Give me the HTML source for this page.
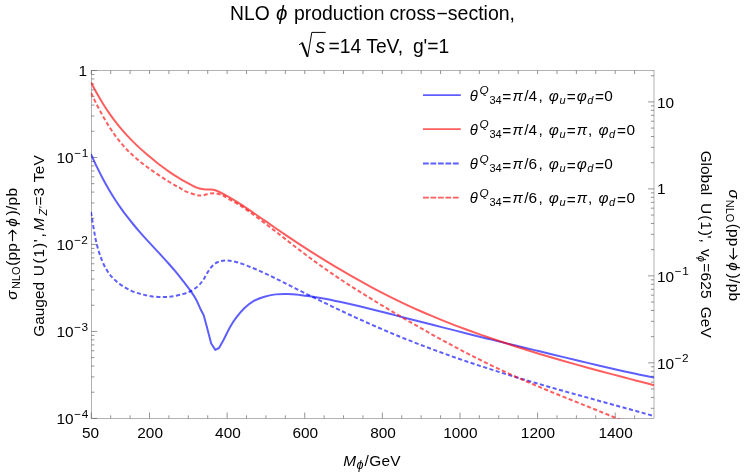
<!DOCTYPE html>
<html><head><meta charset="utf-8"><title>NLO phi production cross-section</title>
<style>html,body{margin:0;padding:0;background:#fff;}body{width:747px;height:474px;overflow:hidden;}svg{display:block;will-change:transform;}text{font-family:"Liberation Sans",sans-serif;fill:#000;white-space:pre;}.i{font-style:italic;}</style></head><body>
<svg width="747" height="474" viewBox="0 0 747 474">
<rect x="0" y="0" width="747" height="474" fill="#fff"/>
<defs><clipPath id="cp"><rect x="90.8" y="70.0" width="563.7" height="348.7"/></clipPath></defs>
<g stroke="#666666" stroke-width="0.5" fill="none">
<rect x="91.3" y="70.5" width="562.7" height="347.9"/>
<path d="M91.30 418.40v-5.90M91.30 70.50v3.50M110.70 418.40v-3.10M110.70 70.50v3.50M130.11 418.40v-3.10M130.11 70.50v3.50M149.51 418.40v-5.90M149.51 70.50v3.50M168.91 418.40v-3.10M168.91 70.50v3.50M188.32 418.40v-3.10M188.32 70.50v3.50M207.72 418.40v-3.10M207.72 70.50v3.50M227.12 418.40v-5.90M227.12 70.50v3.50M246.53 418.40v-3.10M246.53 70.50v3.50M265.93 418.40v-3.10M265.93 70.50v3.50M285.33 418.40v-3.10M285.33 70.50v3.50M304.74 418.40v-5.90M304.74 70.50v3.50M324.14 418.40v-3.10M324.14 70.50v3.50M343.54 418.40v-3.10M343.54 70.50v3.50M362.95 418.40v-3.10M362.95 70.50v3.50M382.35 418.40v-5.90M382.35 70.50v3.50M401.76 418.40v-3.10M401.76 70.50v3.50M421.16 418.40v-3.10M421.16 70.50v3.50M440.56 418.40v-3.10M440.56 70.50v3.50M459.97 418.40v-5.90M459.97 70.50v3.50M479.37 418.40v-3.10M479.37 70.50v3.50M498.77 418.40v-3.10M498.77 70.50v3.50M518.18 418.40v-3.10M518.18 70.50v3.50M537.58 418.40v-5.90M537.58 70.50v3.50M556.98 418.40v-3.10M556.98 70.50v3.50M576.39 418.40v-3.10M576.39 70.50v3.50M595.79 418.40v-3.10M595.79 70.50v3.50M615.19 418.40v-5.90M615.19 70.50v3.50M634.60 418.40v-3.10M634.60 70.50v3.50M91.30 418.40h5.90M91.30 392.22h3.10M91.30 376.90h3.10M91.30 366.04h3.10M91.30 357.61h3.10M91.30 350.72h3.10M91.30 344.90h3.10M91.30 339.85h3.10M91.30 335.40h3.10M91.30 331.42h5.90M91.30 305.24h3.10M91.30 289.93h3.10M91.30 279.06h3.10M91.30 270.63h3.10M91.30 263.75h3.10M91.30 257.92h3.10M91.30 252.88h3.10M91.30 248.43h3.10M91.30 244.45h5.90M91.30 218.27h3.10M91.30 202.95h3.10M91.30 192.09h3.10M91.30 183.66h3.10M91.30 176.77h3.10M91.30 170.95h3.10M91.30 165.90h3.10M91.30 161.45h3.10M91.30 157.47h5.90M91.30 131.29h3.10M91.30 115.98h3.10M91.30 105.11h3.10M91.30 96.68h3.10M91.30 89.80h3.10M91.30 83.97h3.10M91.30 78.93h3.10M91.30 74.48h3.10M91.30 70.50h5.90M654.00 408.30h-3.10M654.00 397.44h-3.10M654.00 389.01h-3.10M654.00 382.12h-3.10M654.00 376.30h-3.10M654.00 371.25h-3.10M654.00 366.80h-3.10M654.00 362.82h-5.90M654.00 336.64h-3.10M654.00 321.33h-3.10M654.00 310.46h-3.10M654.00 302.03h-3.10M654.00 295.15h-3.10M654.00 289.32h-3.10M654.00 284.28h-3.10M654.00 279.83h-3.10M654.00 275.85h-5.90M654.00 249.67h-3.10M654.00 234.35h-3.10M654.00 223.49h-3.10M654.00 215.06h-3.10M654.00 208.17h-3.10M654.00 202.35h-3.10M654.00 197.30h-3.10M654.00 192.85h-3.10M654.00 188.88h-5.90M654.00 162.69h-3.10M654.00 147.38h-3.10M654.00 136.51h-3.10M654.00 128.08h-3.10M654.00 121.20h-3.10M654.00 115.37h-3.10M654.00 110.33h-3.10M654.00 105.88h-3.10M654.00 101.90h-5.90M654.00 75.72h-3.10" stroke-width="0.7"/>
</g>
<g clip-path="url(#cp)" fill="none" stroke-width="2.00" stroke-linejoin="round" stroke-opacity="0.63">
<path d="M91.00 154.11 C92.00 156.29 95.00 163.02 97.00 167.17 C99.00 171.32 101.00 175.24 103.00 178.99 C105.00 182.75 107.00 186.29 109.00 189.70 C111.00 193.11 113.00 196.33 115.00 199.43 C117.00 202.53 119.00 205.46 121.00 208.30 C123.00 211.14 125.00 213.83 127.00 216.45 C129.00 219.07 131.00 221.56 133.00 224.00 C135.00 226.44 137.00 228.78 139.00 231.08 C141.00 233.39 143.00 235.62 145.00 237.83 C147.00 240.05 149.00 242.21 151.00 244.37 C153.00 246.53 155.00 248.66 157.00 250.82 C159.00 252.98 161.00 255.13 163.00 257.32 C165.00 259.51 167.00 261.71 169.00 263.98 C171.00 266.25 173.00 268.55 175.00 270.93 C177.00 273.31 179.60 276.55 181.00 278.29 C182.40 280.03 181.77 279.25 183.40 281.38 C185.03 283.51 188.68 288.06 190.80 291.10 C192.92 294.14 194.48 296.62 196.10 299.60 C197.72 302.58 199.23 306.38 200.50 309.00 C201.77 311.62 203.17 314.25 203.70 315.30 L206.90 326.90 L211.10 343.20 L215.30 349.90 L219.00 348.00 L223.80 339.50 C224.85 337.40 228.00 330.58 230.10 326.90 C232.20 323.22 234.00 320.55 236.40 317.40 C238.80 314.25 241.72 310.68 244.50 308.00 C247.28 305.32 249.92 303.13 253.10 301.30 C256.28 299.47 259.85 298.19 263.60 297.04 C267.35 295.89 271.60 294.90 275.60 294.38 C279.60 293.86 283.60 293.84 287.60 293.93 C291.60 294.02 295.60 294.47 299.60 294.91 C303.60 295.35 307.60 295.96 311.60 296.57 C315.60 297.18 319.60 297.86 323.60 298.59 C327.60 299.31 331.60 300.10 335.60 300.92 C339.60 301.74 343.60 302.62 347.60 303.51 C351.60 304.40 355.60 305.34 359.60 306.29 C363.60 307.24 367.60 308.23 371.60 309.23 C375.60 310.23 379.60 311.25 383.60 312.27 C387.60 313.29 391.60 314.33 395.60 315.36 C399.60 316.39 403.60 317.42 407.60 318.44 C411.60 319.46 415.60 320.49 419.60 321.51 C423.60 322.53 427.60 323.54 431.60 324.56 C435.60 325.58 439.60 326.60 443.60 327.61 C447.60 328.62 451.60 329.63 455.60 330.64 C459.60 331.65 463.60 332.66 467.60 333.67 C471.60 334.68 475.60 335.68 479.60 336.68 C483.60 337.68 487.60 338.66 491.60 339.65 C495.60 340.64 499.60 341.62 503.60 342.60 C507.60 343.58 511.60 344.55 515.60 345.52 C519.60 346.49 523.60 347.45 527.60 348.41 C531.60 349.38 535.60 350.34 539.60 351.31 C543.60 352.28 547.60 353.24 551.60 354.21 C555.60 355.18 559.60 356.15 563.60 357.11 C567.60 358.07 571.60 359.03 575.60 359.99 C579.60 360.95 583.60 361.92 587.60 362.87 C591.60 363.82 595.60 364.76 599.60 365.70 C603.60 366.63 607.60 367.56 611.60 368.48 C615.60 369.40 619.60 370.30 623.60 371.19 C627.60 372.08 631.60 372.95 635.60 373.81 C639.60 374.67 644.53 375.70 647.60 376.34 C650.67 376.98 652.93 377.42 654.00 377.64" stroke="#0000ff"/>
<path d="M91.00 82.37 C92.00 84.24 95.00 90.02 97.00 93.58 C99.00 97.14 101.00 100.50 103.00 103.71 C105.00 106.92 107.00 109.95 109.00 112.85 C111.00 115.75 113.00 118.48 115.00 121.11 C117.00 123.73 119.00 126.22 121.00 128.60 C123.00 130.98 125.00 133.23 127.00 135.40 C129.00 137.57 131.00 139.62 133.00 141.62 C135.00 143.62 137.00 145.52 139.00 147.37 C141.00 149.22 143.00 151.00 145.00 152.74 C147.00 154.49 149.00 156.18 151.00 157.84 C153.00 159.50 155.00 161.12 157.00 162.70 C159.00 164.28 161.00 165.82 163.00 167.31 C165.00 168.80 167.00 170.25 169.00 171.64 C171.00 173.03 173.00 174.38 175.00 175.66 C177.00 176.94 179.25 178.31 181.00 179.34 C182.75 180.38 182.98 180.53 185.50 181.87 C188.02 183.21 193.10 186.16 196.10 187.40 C199.10 188.64 201.03 188.95 203.50 189.30 C205.97 189.65 208.62 189.22 210.90 189.50 C213.18 189.78 214.40 189.85 217.20 191.00 C220.00 192.15 223.95 194.30 227.70 196.39 C231.45 198.48 235.70 201.03 239.70 203.55 C243.70 206.08 247.70 208.82 251.70 211.54 C255.70 214.26 259.70 217.11 263.70 219.89 C267.70 222.67 271.70 225.49 275.70 228.24 C279.70 230.99 283.70 233.71 287.70 236.39 C291.70 239.07 295.70 241.72 299.70 244.34 C303.70 246.96 307.70 249.54 311.70 252.08 C315.70 254.62 319.70 257.12 323.70 259.59 C327.70 262.05 331.70 264.48 335.70 266.87 C339.70 269.26 343.70 271.61 347.70 273.92 C351.70 276.23 355.70 278.50 359.70 280.72 C363.70 282.94 367.70 285.12 371.70 287.26 C375.70 289.40 379.70 291.50 383.70 293.55 C387.70 295.60 391.70 297.61 395.70 299.57 C399.70 301.53 403.70 303.44 407.70 305.30 C411.70 307.17 415.70 308.99 419.70 310.76 C423.70 312.53 427.70 314.25 431.70 315.94 C435.70 317.62 439.70 319.26 443.70 320.87 C447.70 322.48 451.70 324.04 455.70 325.57 C459.70 327.10 463.70 328.60 467.70 330.06 C471.70 331.52 475.70 332.94 479.70 334.35 C483.70 335.76 487.70 337.15 491.70 338.51 C495.70 339.87 499.70 341.20 503.70 342.52 C507.70 343.84 511.70 345.14 515.70 346.43 C519.70 347.72 523.70 348.99 527.70 350.24 C531.70 351.49 535.70 352.72 539.70 353.93 C543.70 355.14 547.70 356.34 551.70 357.52 C555.70 358.70 559.70 359.86 563.70 361.01 C567.70 362.16 571.70 363.28 575.70 364.40 C579.70 365.51 583.70 366.61 587.70 367.70 C591.70 368.79 595.70 369.87 599.70 370.94 C603.70 372.01 607.70 373.07 611.70 374.13 C615.70 375.19 619.70 376.24 623.70 377.29 C627.70 378.34 631.70 379.39 635.70 380.44 C639.70 381.49 644.65 382.78 647.70 383.58 C650.75 384.38 652.95 384.96 654.00 385.24" stroke="#ff0000"/>
<path d="M91.00 212.00 C91.48 215.00 92.97 224.75 93.90 230.00 C94.83 235.25 95.45 238.93 96.60 243.50 C97.75 248.07 99.22 253.15 100.80 257.40 C102.38 261.65 104.17 265.65 106.10 269.00 C108.03 272.35 109.93 274.85 112.40 277.50 C114.87 280.15 117.73 282.68 120.90 284.90 C124.07 287.12 127.88 289.23 131.40 290.80 C134.92 292.37 138.48 293.35 142.00 294.30 C145.52 295.25 148.82 296.03 152.50 296.50 C156.18 296.97 160.58 297.15 164.10 297.10 C167.62 297.05 170.38 296.73 173.60 296.20 C176.82 295.67 180.53 294.75 183.40 293.90 C186.27 293.05 188.33 292.43 190.80 291.10 C193.27 289.77 196.08 287.83 198.20 285.90 C200.32 283.97 201.92 281.78 203.50 279.50 C205.08 277.22 206.12 274.58 207.70 272.20 C209.28 269.82 211.07 266.97 213.00 265.20 C214.93 263.43 217.02 262.38 219.30 261.60 C221.58 260.82 223.88 260.43 226.70 260.50 C229.52 260.57 232.87 261.15 236.20 262.00 C239.53 262.85 242.95 264.15 246.70 265.57 C250.45 266.99 254.70 268.74 258.70 270.49 C262.70 272.24 266.70 274.13 270.70 276.05 C274.70 277.97 278.70 279.98 282.70 281.98 C286.70 283.98 290.70 286.02 294.70 288.03 C298.70 290.04 302.70 292.04 306.70 294.03 C310.70 296.02 314.70 298.00 318.70 299.96 C322.70 301.92 326.70 303.87 330.70 305.79 C334.70 307.72 338.70 309.63 342.70 311.51 C346.70 313.39 350.70 315.25 354.70 317.09 C358.70 318.92 362.70 320.74 366.70 322.52 C370.70 324.30 374.70 326.05 378.70 327.78 C382.70 329.51 386.70 331.21 390.70 332.88 C394.70 334.55 398.70 336.19 402.70 337.81 C406.70 339.43 410.70 341.01 414.70 342.57 C418.70 344.13 422.70 345.66 426.70 347.17 C430.70 348.68 434.70 350.16 438.70 351.62 C442.70 353.08 446.70 354.51 450.70 355.92 C454.70 357.33 458.70 358.71 462.70 360.08 C466.70 361.44 470.70 362.79 474.70 364.11 C478.70 365.44 482.70 366.74 486.70 368.03 C490.70 369.32 494.70 370.59 498.70 371.84 C502.70 373.09 506.70 374.33 510.70 375.55 C514.70 376.77 518.70 377.98 522.70 379.17 C526.70 380.37 530.70 381.55 534.70 382.72 C538.70 383.89 542.70 385.05 546.70 386.20 C550.70 387.35 554.70 388.50 558.70 389.63 C562.70 390.76 566.70 391.89 570.70 393.01 C574.70 394.13 578.70 395.24 582.70 396.35 C586.70 397.46 590.70 398.56 594.70 399.66 C598.70 400.76 602.70 401.86 606.70 402.96 C610.70 404.06 614.70 405.16 618.70 406.26 C622.70 407.36 626.70 408.46 630.70 409.56 C634.70 410.66 638.82 411.79 642.70 412.87 C646.58 413.95 652.12 415.50 654.00 416.02" stroke="#0000ff" stroke-dasharray="4.1 2.5"/>
<path d="M91.00 92.92 C92.00 94.94 95.00 101.17 97.00 105.05 C99.00 108.93 101.00 112.66 103.00 116.21 C105.00 119.76 107.00 123.15 109.00 126.33 C111.00 129.51 113.00 132.51 115.00 135.30 C117.00 138.09 119.00 140.66 121.00 143.07 C123.00 145.48 125.00 147.68 127.00 149.76 C129.00 151.84 131.00 153.73 133.00 155.55 C135.00 157.37 137.00 159.05 139.00 160.68 C141.00 162.31 143.00 163.83 145.00 165.33 C147.00 166.84 149.00 168.28 151.00 169.71 C153.00 171.14 155.00 172.56 157.00 173.93 C159.00 175.30 161.00 176.65 163.00 177.95 C165.00 179.25 167.00 180.52 169.00 181.74 C171.00 182.96 173.18 184.24 175.00 185.27 C176.82 186.30 178.15 186.94 179.90 187.94 C181.65 188.94 182.80 190.14 185.50 191.30 C188.20 192.46 193.28 194.22 196.10 194.90 C198.92 195.58 200.28 195.60 202.40 195.40 C204.52 195.20 206.68 194.07 208.80 193.70 C210.92 193.33 213.00 193.00 215.10 193.20 C217.20 193.40 219.30 194.05 221.40 194.90 C223.50 195.75 224.65 196.60 227.70 198.32 C230.75 200.04 235.70 202.72 239.70 205.24 C243.70 207.76 247.70 210.60 251.70 213.45 C255.70 216.30 259.70 219.33 263.70 222.35 C267.70 225.37 271.70 228.47 275.70 231.55 C279.70 234.64 283.70 237.77 287.70 240.86 C291.70 243.96 295.70 247.07 299.70 250.12 C303.70 253.17 307.70 256.21 311.70 259.16 C315.70 262.11 319.70 265.00 323.70 267.83 C327.70 270.66 331.70 273.42 335.70 276.12 C339.70 278.82 343.70 281.46 347.70 284.06 C351.70 286.66 355.70 289.20 359.70 291.72 C363.70 294.24 367.70 296.71 371.70 299.16 C375.70 301.61 379.70 304.03 383.70 306.43 C387.70 308.83 391.70 311.22 395.70 313.58 C399.70 315.94 403.70 318.29 407.70 320.61 C411.70 322.93 415.70 325.23 419.70 327.51 C423.70 329.79 427.70 332.04 431.70 334.27 C435.70 336.50 439.70 338.70 443.70 340.88 C447.70 343.06 451.70 345.21 455.70 347.33 C459.70 349.45 463.70 351.54 467.70 353.60 C471.70 355.66 475.70 357.69 479.70 359.69 C483.70 361.69 487.70 363.66 491.70 365.59 C495.70 367.52 499.70 369.41 503.70 371.27 C507.70 373.13 511.70 374.95 515.70 376.74 C519.70 378.53 523.70 380.27 527.70 382.00 C531.70 383.73 535.70 385.42 539.70 387.10 C543.70 388.78 547.70 390.42 551.70 392.06 C555.70 393.70 559.70 395.31 563.70 396.93 C567.70 398.55 571.70 400.15 575.70 401.75 C579.70 403.35 583.70 404.94 587.70 406.55 C591.70 408.16 595.70 409.76 599.70 411.38 C603.70 413.00 607.98 414.74 611.70 416.27 C615.42 417.80 620.28 419.84 622.00 420.55" stroke="#ff0000" stroke-dasharray="4.1 2.5"/>
</g>
<text x="82.03" y="438.20" font-size="15.40">50</text>
<text x="137.28" y="438.20" font-size="15.40">200</text>
<text x="215.10" y="438.20" font-size="15.40">400</text>
<text x="292.50" y="438.20" font-size="15.40">600</text>
<text x="370.17" y="438.20" font-size="15.40">800</text>
<text x="443.25" y="438.20" font-size="15.40">1000</text>
<text x="520.86" y="438.20" font-size="15.40">1200</text>
<text x="598.48" y="438.20" font-size="15.40">1400</text>
<text x="78.39" y="75.90" font-size="15.40">1</text>
<text x="56.43" y="163.28" font-size="15.40">10</text>
<text x="74.23" y="157.08" font-size="11.60">−</text>
<text x="81.70" y="156.68" font-size="11.80">1</text>
<text x="56.43" y="250.25" font-size="15.40">10</text>
<text x="74.23" y="244.05" font-size="11.60">−</text>
<text x="81.31" y="243.65" font-size="11.80">2</text>
<text x="56.43" y="337.22" font-size="15.40">10</text>
<text x="74.23" y="331.02" font-size="11.60">−</text>
<text x="81.45" y="330.62" font-size="11.80">3</text>
<text x="56.43" y="424.20" font-size="15.40">10</text>
<text x="74.23" y="418.00" font-size="11.60">−</text>
<text x="81.63" y="417.60" font-size="11.80">4</text>
<text x="657.03" y="107.50" font-size="15.40">10</text>
<text x="657.03" y="194.47" font-size="15.40">1</text>
<text x="657.03" y="281.65" font-size="15.40">10</text>
<text x="674.83" y="275.45" font-size="11.60">−</text>
<text x="682.30" y="275.05" font-size="11.80">1</text>
<text x="657.03" y="368.62" font-size="15.40">10</text>
<text x="674.83" y="362.42" font-size="11.60">−</text>
<text x="681.91" y="362.02" font-size="11.80">2</text>
<text x="343.33" y="465.50" font-size="15.40" class="i">M</text>
<text x="356.59" y="469.00" font-size="12.60" class="i">ϕ</text>
<text x="364.60" y="465.50" font-size="15.40" letter-spacing="0.30">/GeV</text>
<text x="230.02" y="19.60" font-size="19.30">NLO</text>
<text x="275.94" y="19.60" font-size="20.50" class="i">ϕ</text>
<text x="293.95" y="19.60" font-size="19.40">production</text>
<text x="389.48" y="19.60" font-size="19.40">cross</text>
<text x="436.54" y="19.60" font-size="19.40">−</text>
<text x="447.86" y="19.60" font-size="19.50">section</text>
<text x="509.46" y="19.60" font-size="19.40">,</text>
<path d="M299.1 44.8 L302.3 42.6 M307.7 56.6 L311.8 32.4 L325.7 32.4" fill="none" stroke="#000" stroke-width="1.0" stroke-linejoin="miter"/>
<path d="M302.0 42.6 L307.6 56.8" fill="none" stroke="#000" stroke-width="2.0"/>
<text x="315.55" y="52.50" font-size="19.30" class="i">s</text>
<text x="328.56" y="52.50" font-size="19.30">=14 TeV,</text>
<text x="412.89" y="52.50" font-size="19.30">g'=1</text>
<text transform="translate(16.90,299.71) rotate(-90)" font-size="15.40" class="i">σ</text>
<text transform="translate(20.40,289.10) rotate(-90)" font-size="11.00">NLO</text>
<text transform="translate(16.90,265.85) rotate(-90)" font-size="15.40" letter-spacing="0.25">(pp</text>
<path d="M12.50 240.70L12.50 230.20M8.90 233.60L12.50 230.10L16.10 233.60" fill="none" stroke="#000" stroke-width="1.15" stroke-linecap="round" stroke-linejoin="round"/>
<text transform="translate(16.90,226.80) rotate(-90)" font-size="15.40" class="i">ϕ</text>
<text transform="translate(16.90,215.59) rotate(-90)" font-size="15.40" letter-spacing="0.35">)/pb</text>
<text transform="translate(43.60,336.77) rotate(-90)" font-size="15.40">Gauged</text>
<text transform="translate(43.60,276.19) rotate(-90)" font-size="15.40">U</text>
<text transform="translate(43.60,263.55) rotate(-90)" font-size="15.40" letter-spacing="0.90">(1)</text>
<text transform="translate(43.60,242.18) rotate(-90)" font-size="15.40">'</text>
<text transform="translate(43.60,237.58) rotate(-90)" font-size="15.40">,</text>
<text transform="translate(43.60,230.87) rotate(-90)" font-size="15.40" class="i">M</text>
<text transform="translate(47.00,215.39) rotate(-90)" font-size="11.00" class="i">Z'</text>
<text transform="translate(43.60,205.55) rotate(-90)" font-size="15.40" letter-spacing="0.30">=3</text>
<text transform="translate(43.60,182.25) rotate(-90)" font-size="15.40" letter-spacing="0.25">TeV</text>
<text transform="translate(729.00,189.39) rotate(90)" font-size="15.40" class="i">σ</text>
<text transform="translate(725.50,199.70) rotate(90)" font-size="11.00">NLO</text>
<text transform="translate(729.00,223.65) rotate(90)" font-size="15.40" letter-spacing="0.25">(pp</text>
<path d="M733.40 248.40L733.40 259.00M729.80 255.60L733.40 259.10L737.00 255.60" fill="none" stroke="#000" stroke-width="1.15" stroke-linecap="round" stroke-linejoin="round"/>
<text transform="translate(729.00,262.30) rotate(90)" font-size="15.40" class="i">ϕ</text>
<text transform="translate(729.00,273.61) rotate(90)" font-size="15.40" letter-spacing="0.35">)/pb</text>
<text transform="translate(701.00,150.63) rotate(90)" font-size="15.40">Global</text>
<text transform="translate(701.00,203.11) rotate(90)" font-size="15.40">U</text>
<text transform="translate(701.00,215.15) rotate(90)" font-size="15.40" letter-spacing="1.00">(1)</text>
<text transform="translate(701.00,235.52) rotate(90)" font-size="15.40">'</text>
<text transform="translate(701.00,238.52) rotate(90)" font-size="15.40">,</text>
<text transform="translate(701.00,248.95) rotate(90)" font-size="15.40">v</text>
<text transform="translate(697.60,255.85) rotate(90)" font-size="11.00" class="i">ϕ</text>
<text transform="translate(701.00,263.35) rotate(90)" font-size="15.40" letter-spacing="0.15">=625</text>
<text transform="translate(701.00,306.73) rotate(90)" font-size="15.40" letter-spacing="0.10">GeV</text>
<path d="M423 95.1H460.8" stroke="#0000ff" stroke-width="1.90" stroke-opacity="0.63" fill="none"/>
<text x="469.67" y="100.60" font-size="14.80" class="i">θ</text>
<text x="479.62" y="94.20" font-size="11.80" class="i">Q</text>
<text x="489.38" y="103.80" font-size="11.00">34</text>
<text x="502.35" y="102.10" font-size="15.40">=</text>
<text x="512.52" y="100.60" font-size="15.40" class="i">π</text>
<text x="524.20" y="100.60" font-size="15.40">/4</text>
<text x="538.42" y="100.60" font-size="15.40">,</text>
<text x="548.67" y="100.60" font-size="15.40" class="i">φ</text>
<text x="559.44" y="103.90" font-size="11.00" class="i">u</text>
<text x="566.75" y="102.10" font-size="15.40">=</text>
<text x="576.77" y="100.60" font-size="15.40" class="i">φ</text>
<text x="587.23" y="103.90" font-size="11.00" class="i">d</text>
<text x="594.95" y="102.10" font-size="15.40">=</text>
<text x="604.30" y="100.60" font-size="15.40">0</text>
<path d="M423 129.1H460.8" stroke="#ff0000" stroke-width="1.90" stroke-opacity="0.63" fill="none"/>
<text x="469.67" y="134.60" font-size="14.80" class="i">θ</text>
<text x="479.62" y="128.20" font-size="11.80" class="i">Q</text>
<text x="489.38" y="137.80" font-size="11.00">34</text>
<text x="502.35" y="136.10" font-size="15.40">=</text>
<text x="512.52" y="134.60" font-size="15.40" class="i">π</text>
<text x="524.20" y="134.60" font-size="15.40">/4</text>
<text x="538.42" y="134.60" font-size="15.40">,</text>
<text x="548.67" y="134.60" font-size="15.40" class="i">φ</text>
<text x="559.44" y="137.90" font-size="11.00" class="i">u</text>
<text x="566.75" y="136.10" font-size="15.40">=</text>
<text x="576.82" y="134.60" font-size="15.40" class="i">π</text>
<text x="588.02" y="134.60" font-size="15.40">,</text>
<text x="598.47" y="134.60" font-size="15.40" class="i">φ</text>
<text x="609.03" y="137.90" font-size="11.00" class="i">d</text>
<text x="616.95" y="136.10" font-size="15.40">=</text>
<text x="626.40" y="134.60" font-size="15.40">0</text>
<path d="M423 163.5H458.8" stroke="#0000ff" stroke-width="1.90" stroke-opacity="0.63" fill="none" stroke-dasharray="5.8 1.68"/>
<text x="469.67" y="169.00" font-size="14.80" class="i">θ</text>
<text x="479.62" y="162.60" font-size="11.80" class="i">Q</text>
<text x="489.38" y="172.20" font-size="11.00">34</text>
<text x="502.35" y="170.50" font-size="15.40">=</text>
<text x="512.52" y="169.00" font-size="15.40" class="i">π</text>
<text x="524.20" y="169.00" font-size="15.40">/6</text>
<text x="538.42" y="169.00" font-size="15.40">,</text>
<text x="548.67" y="169.00" font-size="15.40" class="i">φ</text>
<text x="559.44" y="172.30" font-size="11.00" class="i">u</text>
<text x="566.75" y="170.50" font-size="15.40">=</text>
<text x="576.77" y="169.00" font-size="15.40" class="i">φ</text>
<text x="587.23" y="172.30" font-size="11.00" class="i">d</text>
<text x="594.95" y="170.50" font-size="15.40">=</text>
<text x="604.30" y="169.00" font-size="15.40">0</text>
<path d="M423 197.6H458.8" stroke="#ff0000" stroke-width="1.90" stroke-opacity="0.63" fill="none" stroke-dasharray="5.8 1.68"/>
<text x="469.67" y="203.10" font-size="14.80" class="i">θ</text>
<text x="479.62" y="196.70" font-size="11.80" class="i">Q</text>
<text x="489.38" y="206.30" font-size="11.00">34</text>
<text x="502.35" y="204.60" font-size="15.40">=</text>
<text x="512.52" y="203.10" font-size="15.40" class="i">π</text>
<text x="524.20" y="203.10" font-size="15.40">/6</text>
<text x="538.42" y="203.10" font-size="15.40">,</text>
<text x="548.67" y="203.10" font-size="15.40" class="i">φ</text>
<text x="559.44" y="206.40" font-size="11.00" class="i">u</text>
<text x="566.75" y="204.60" font-size="15.40">=</text>
<text x="576.82" y="203.10" font-size="15.40" class="i">π</text>
<text x="588.02" y="203.10" font-size="15.40">,</text>
<text x="598.47" y="203.10" font-size="15.40" class="i">φ</text>
<text x="609.03" y="206.40" font-size="11.00" class="i">d</text>
<text x="616.95" y="204.60" font-size="15.40">=</text>
<text x="626.40" y="203.10" font-size="15.40">0</text>
</svg></body></html>
